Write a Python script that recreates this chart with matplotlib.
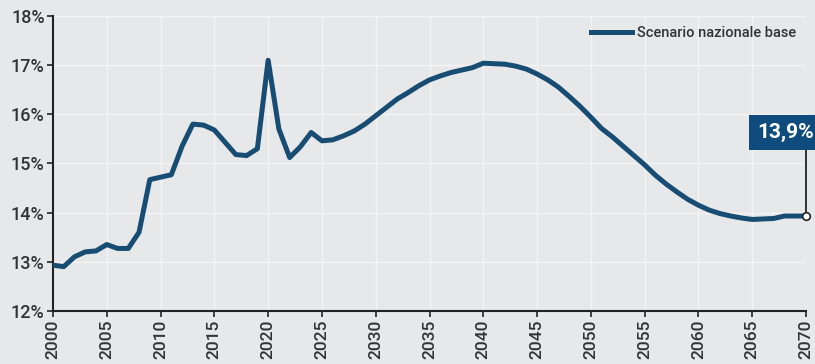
import numpy as np
from matplotlib import pyplot as plt

years = list(range(2000, 2071))
spesa = [12.93, 12.90, 13.10, 13.20, 13.22, 13.35, 13.27, 13.27, 13.60, 14.67,
         14.72, 14.77, 15.35, 15.80, 15.78, 15.68, 15.43, 15.18, 15.16, 15.30,
         17.10, 15.70, 15.12, 15.34, 15.63, 15.46, 15.48, 15.56, 15.66, 15.80,
         15.97, 16.14, 16.31, 16.44, 16.58, 16.70, 16.78, 16.85, 16.90, 16.95,
         17.04, 17.03, 17.02, 16.98, 16.92, 16.82, 16.70, 16.55, 16.36, 16.16,
         15.94, 15.71, 15.54, 15.35, 15.16, 14.97, 14.76, 14.58, 14.42, 14.27,
         14.15, 14.05, 13.98, 13.93, 13.89, 13.86, 13.87, 13.88, 13.93, 13.93,
         13.93]
series_name = 'Scenario nazionale base'
end_label = '13,9%'
y_ticks = [12, 13, 14, 15, 16, 17, 18]
x_ticks = list(range(2000, 2071, 5))

plt.rcParams['font.family'] = ['Roboto', 'DejaVu Sans']

bg = '#e7e8e9'
blue = '#184d73'

fig = plt.figure(figsize=(8.15, 3.64), dpi=100)
fig.patch.set_facecolor(bg)
ax = fig.add_axes([0.065, 0.146, 0.924, 0.81])
ax.set_facecolor(bg)

ax.plot(years, spesa, color=blue, lw=3.6, solid_joinstyle='round',
        label=series_name, zorder=3)
ax.plot([years[-1]], [spesa[-1]], marker='o', ms=5.5, mfc='white', mec='#222222',
        mew=1.2, zorder=5, clip_on=False)

# callout for last value
ax.plot([years[-1], years[-1]], [spesa[-1], 15.3], color='#222222', lw=1.3, zorder=4,
        clip_on=False)
ax.text(years[-1] + 0.75, 15.63, end_label, ha='right', va='center', color='white',
        fontsize=15, fontweight='bold', zorder=6,
        bbox=dict(boxstyle='square,pad=0.4', fc='#0f4c7d', ec='none'))

ax.set_xlim(2000, 2070)
ax.set_ylim(12, 18)
ax.set_xticks(x_ticks)
ax.set_xticklabels([str(x) for x in x_ticks], rotation=90, fontsize=12.5,
                   color='#333333', fontweight='medium')
ax.set_yticks(y_ticks)
ax.set_yticklabels([f'{v}%' for v in y_ticks], fontsize=13, color='#333333',
                   fontweight='medium')
ax.grid(True, color='#f4f4f4', lw=1.0, zorder=0)
ax.set_axisbelow(True)
for s in ['top', 'right']:
    ax.spines[s].set_visible(False)
for s in ['left', 'bottom']:
    ax.spines[s].set_color('#222222')
    ax.spines[s].set_linewidth(1.5)
ax.tick_params(axis='both', direction='out', length=4, width=1.2, color='#222222', pad=2)

leg = ax.legend(loc='upper right', frameon=False, handlelength=2.8,
                handletextpad=0.3, borderaxespad=0.3,
                prop={'size': 10.5, 'weight': 'medium'})
for t in leg.get_texts():
    t.set_color('#333333')

fig.savefig('out.png', dpi=100, facecolor=bg)
